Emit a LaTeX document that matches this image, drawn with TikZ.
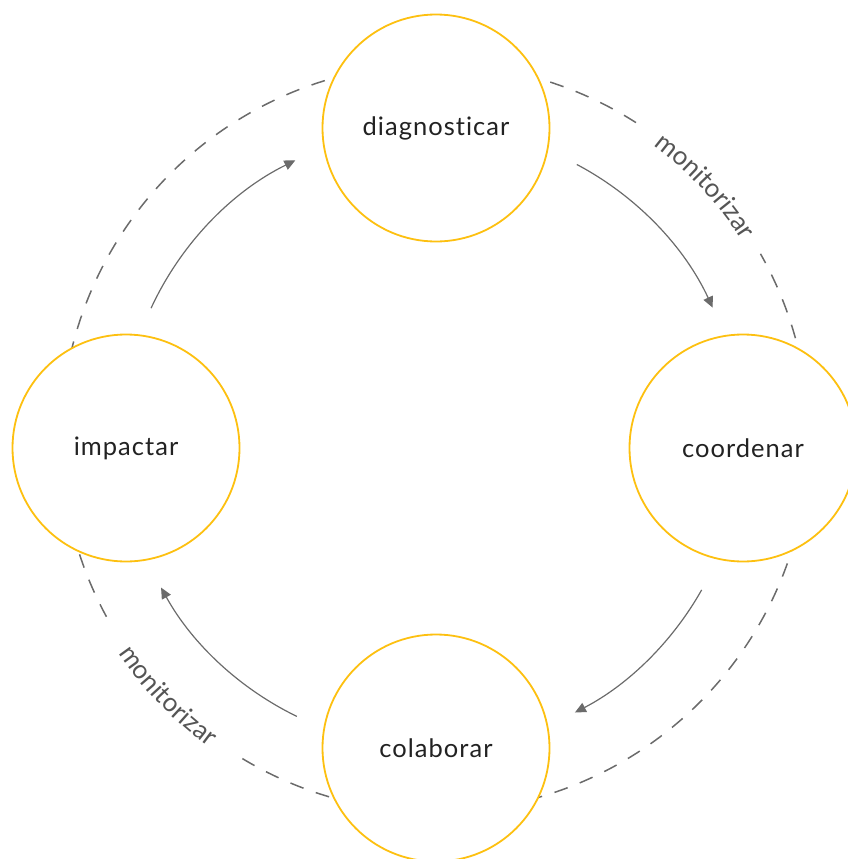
\documentclass[tikz,border=0pt]{standalone}
\usepackage{fontspec}
\setmainfont{Lato}[LetterSpace=4, Ligatures={NoCommon}]
\usetikzlibrary{arrows.meta,decorations.text}

\definecolor{ringyellow}{HTML}{FDC010}
\definecolor{flowgray}{HTML}{6B6B6B}
\definecolor{labelgray}{HTML}{555555}
\definecolor{textdark}{HTML}{222222}

\tikzset{
  x=1pt, y=1pt,
  stage/.style={circle, draw=ringyellow, fill=white, line width=1.8pt,
    minimum size=227pt, inner sep=0pt, text=textdark,
    font=\fontsize{25.5}{30}\selectfont},
  flow/.style={draw=flowgray, line width=1.2pt,
    -{Triangle[length=11pt,width=10pt]}},
  ring/.style={draw=flowgray, line width=1.5pt, dash pattern=on 14pt off 13pt},
}

\begin{document}
\begin{tikzpicture}
  \useasboundingbox (0,0) rectangle (848,-859);

  % centre of the monitoring ring and of the flow arrows
  \coordinate (hub) at (435,-438);
  \coordinate (flowhub) at (432,-438);

  % dashed monitoring ring, open where its labels sit
  \draw[ring] ([shift={(hub)}]57.5:374) arc[start angle=57.5, end angle=210, radius=374];
  \draw[ring] ([shift={(hub)}]239:374) arc[start angle=239, end angle=389.5, radius=374];

  % ring labels set along the arc
  \path[decorate, decoration={text along path, text align=center,
      text color=labelgray, text={|\fontsize{26}{30}\selectfont|monitorizar}}]
    ([shift={(hub)}]58:365) arc[start angle=58, end angle=28, radius=365];
  \path[decorate, decoration={text along path, text align=center,
      text color=labelgray, text={|\fontsize{26}{30}\selectfont|monitorizar}}]
    ([shift={(hub)}]207:383) arc[start angle=207, end angle=241, radius=383];

  % the four stages
  \node[stage] (diag) at (436,-128) {diagnosticar};
  \node[stage] (coord) at (743,-448) {coordenar};
  \node[stage] (colab) at (436,-748) {colaborar};
  \node[stage] (impact) at (126,-448) {impactar};

  % cycle arrows between the stages
  \draw[flow] ([shift={(flowhub)}]155.2:309.5) arc[start angle=155.2, end angle=116.2, radius=309.5];
  \draw[flow] ([shift={(flowhub)}]62.1:309.5) arc[start angle=62.1, end angle=24.9, radius=309.5];
  \draw[flow] ([shift={(flowhub)}]-29.4:309.5) arc[start angle=-29.4, end angle=-62.5, radius=309.5];
  \draw[flow] ([shift={(flowhub)}]244.1:309.5) arc[start angle=244.1, end angle=208.9, radius=309.5];
\end{tikzpicture}
\end{document}
